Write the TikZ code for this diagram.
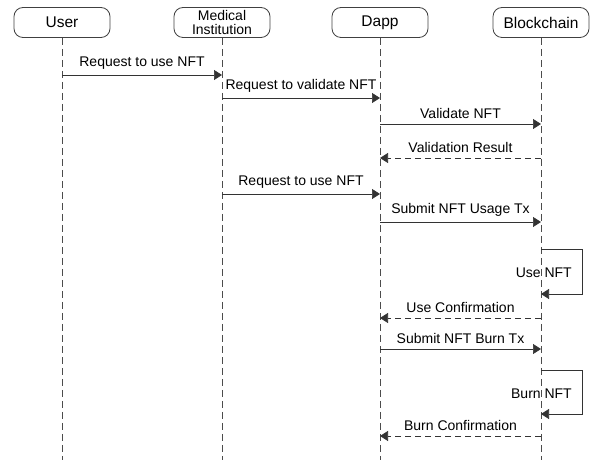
\documentclass[tikz,border=0pt]{standalone}
\usepackage{fontspec}
\setmainfont{Liberation Sans}
\usetikzlibrary{arrows.meta}
\begin{document}
\begin{tikzpicture}[x=1bp,y=-1bp,
  actor/.style={draw=black!75, line width=0.8bp, rounded corners=9bp, minimum width=96bp, minimum height=30bp, inner sep=0pt, font=\fontsize{15.5bp}{17bp}\selectfont, align=center},
  lifeline/.style={draw=black!70, line width=0.7bp, dash pattern=on 7bp off 4bp},
  msg/.style={draw=black!80, line width=0.7bp, -{Triangle[length=8bp,width=10bp]}},
  ret/.style={msg, dash pattern=on 6bp off 4bp},
  lbl/.style={font=\fontsize{14bp}{16bp}\selectfont, inner sep=0pt, above=5bp}]
\useasboundingbox (0,0) rectangle (593,460);
\node[actor] (user) at (62,22.5) {User};
\node[actor, font=\fontsize{14bp}{14bp}\selectfont] (med) at (222,22.5) {Medical\\Institution};
\node[actor] (dapp) at (380,22.5) {Dapp};
\node[actor] (bc) at (541,22.5) {Blockchain};
\coordinate (ue) at (62,460);
\coordinate (me) at (222,460);
\coordinate (de) at (380,460);
\coordinate (be) at (541,460);
\draw[lifeline] (user.south) -- (ue);
\draw[lifeline] (med.south) -- (me);
\draw[lifeline] (dapp.south) -- (de);
\draw[lifeline] (bc.south) -- (be);
% message endpoints
\foreach \n/\y in {1/75,2/98,3/124,4/158,5/194,6/222,7/249,8/294,9/318,10/349,11/370,12/414,13/436}{
  \coordinate (u\n) at (62,\y);
  \coordinate (m\n) at (222,\y);
  \coordinate (d\n) at (380,\y);
  \coordinate (b\n) at (541,\y);
  \coordinate (r\n) at (582,\y);
}
\draw[msg] (u1) -- node[lbl] {Request to use NFT} (m1);
\draw[msg] (m2) -- node[lbl] {Request to validate NFT} (d2);
\draw[msg] (d3) -- node[lbl] {Validate NFT} (b3);
\draw[ret] (b4) -- node[lbl] {Validation Result} (d4);
\draw[msg] (m5) -- node[lbl] {Request to use NFT} (d5);
\draw[msg] (d6) -- node[lbl] {Submit NFT Usage Tx} (b6);
\draw[msg] (b7) -- (r7) -- (r8) -- (b8);
\node[font=\fontsize{14bp}{16bp}\selectfont, inner sep=0pt, anchor=east] (l1) at (572,273) {Use NFT};
\draw[ret] (b9) -- node[lbl] {Use Confirmation} (d9);
\draw[msg] (d10) -- node[lbl] {Submit NFT Burn Tx} (b10);
\draw[msg] (b11) -- (r11) -- (r12) -- (b12);
\node[font=\fontsize{14bp}{16bp}\selectfont, inner sep=0pt, anchor=east] (l2) at (572,394) {Burn NFT};
\draw[ret] (b13) -- node[lbl] {Burn Confirmation} (d13);
\end{tikzpicture}
\end{document}
